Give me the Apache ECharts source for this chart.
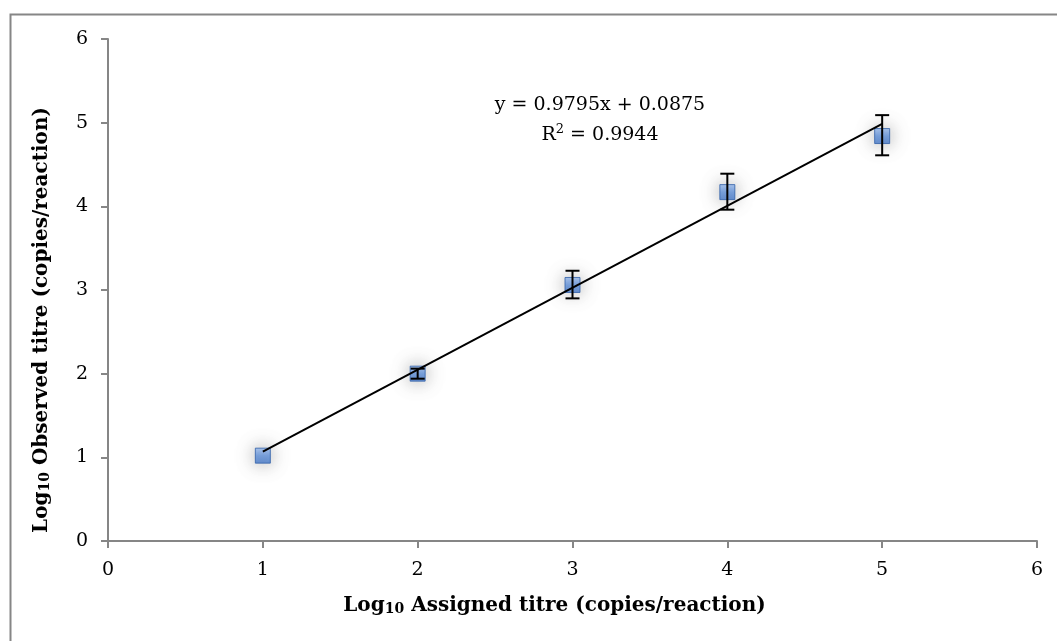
<!DOCTYPE html>
<html><head><meta charset="utf-8">
<script src="https://cdn.jsdelivr.net/npm/echarts@6/dist/echarts.min.js"></script>
<style>html,body{margin:0;padding:0;background:#fff}#c{width:1057px;height:641px}</style>
</head><body><div id="c"></div>
<script>
const assigned = [1, 2, 3, 4, 5];
const observed = [1.02, 2.0, 3.06, 4.17, 4.84];
const errLow = [1.02, 1.94, 2.90, 3.96, 4.61];
const errHigh = [1.02, 2.06, 3.23, 4.39, 5.09];
const trendX = [1, 5];
const trendY = [1.067, 4.985];
const xTicks = [0, 1, 2, 3, 4, 5, 6];
const yTicks = [0, 1, 2, 3, 4, 5, 6];
const equation = 'y = 0.9795x + 0.0875';
const rSquared = '0.9944';

const FONT = '"DejaVu Serif", "Liberation Serif", serif';
const chart = echarts.init(document.getElementById('c'));
const pts = assigned.map((x, i) => [x, observed[i]]);
const errs = assigned.map((x, i) => [x, errLow[i], errHigh[i]]);
const trend = trendX.map((x, i) => [x, trendY[i]]);

const richName = {
  s: { fontFamily: FONT, fontSize: 20, fontWeight: 'bold', color: '#000' },
  sub: { fontFamily: FONT, fontSize: 14, fontWeight: 'bold', color: '#000', padding: [6, 0, 0, 0] }
};

chart.setOption({
  backgroundColor: '#fff',
  animation: false,
  grid: { left: 108, right: 20, top: 39, bottom: 100, containLabel: false },
  xAxis: {
    type: 'value', min: xTicks[0], max: xTicks[xTicks.length - 1], interval: 1,
    name: '{s|Log}{sub|10}{s| Assigned titre (copies/reaction)}',
    nameLocation: 'middle', nameGap: 55,
    nameTextStyle: { rich: richName, padding: [0, 36, 0, 0] },
    axisLine: { lineStyle: { color: '#868686', width: 2 } },
    axisTick: { show: true, inside: false, length: 7, lineStyle: { color: '#868686', width: 2 } },
    axisLabel: { fontFamily: FONT, fontSize: 19, color: '#000', margin: 20 },
    splitLine: { show: false }
  },
  yAxis: {
    type: 'value', min: yTicks[0], max: yTicks[yTicks.length - 1], interval: 1,
    name: '{s|Log}{sub|10}{s| Observed titre (copies/reaction)}',
    nameLocation: 'middle', nameGap: 56, nameRotate: 90,
    nameTextStyle: { rich: richName, padding: [0, 60, 0, 0] },
    axisLine: { show: true, lineStyle: { color: '#868686', width: 2 } },
    axisTick: { show: true, inside: false, length: 7, lineStyle: { color: '#868686', width: 2 } },
    axisLabel: { fontFamily: FONT, fontSize: 19, color: '#000', margin: 20 },
    splitLine: { show: false }
  },
  graphic: [
    { type: 'rect', left: 8, top: 12, shape: { width: 1070, height: 660 }, style: { fill: 'none', stroke: '#868686', lineWidth: 2 }, z: -1 },
    { type: 'text', x: 600, y: 105, style: { text: equation, font: '19px ' + FONT, fill: '#000', align: 'center', verticalAlign: 'middle' } },
    { type: 'text', x: 600, y: 135, style: { text: '{a|R}{b|2}{a| = ' + rSquared + '}', font: '19px ' + FONT, fill: '#000', align: 'center', verticalAlign: 'middle',
      rich: { a: { font: '19px ' + FONT, fill: '#000' }, b: { font: '13px ' + FONT, fill: '#000', padding: [0, 0, 10, 0] } } } }
  ],
  series: [
    {
      type: 'scatter', data: pts, symbol: 'rect', symbolSize: 15, z: 2,
      itemStyle: {
        color: new echarts.graphic.LinearGradient(0, 0, 0, 1, [{ offset: 0, color: '#9cbdf0' }, { offset: 0.5, color: '#5b8fdc' }, { offset: 1, color: '#3f74c8' }]),
        borderColor: '#2f5fa8', borderWidth: 1,
        shadowBlur: 18, shadowColor: 'rgba(120,120,120,0.8)'
      }
    },
    {
      type: 'custom', data: errs, z: 3,
      renderItem: function (params, api) {
        const x = api.value(0);
        const lo = api.coord([x, api.value(1)]);
        const hi = api.coord([x, api.value(2)]);
        if (Math.abs(hi[1] - lo[1]) < 1) return null;
        const w = 7;
        const st = { stroke: '#000', lineWidth: 2 };
        return { type: 'group', children: [
          { type: 'line', shape: { x1: lo[0], y1: lo[1], x2: hi[0], y2: hi[1] }, style: st },
          { type: 'line', shape: { x1: hi[0] - w, y1: hi[1], x2: hi[0] + w, y2: hi[1] }, style: st },
          { type: 'line', shape: { x1: lo[0] - w, y1: lo[1], x2: lo[0] + w, y2: lo[1] }, style: st }
        ] };
      }
    },
    {
      type: 'line', data: trend, symbol: 'none', z: 4,
      lineStyle: { color: '#000', width: 2 }
    }
  ]
});
</script></body></html>
